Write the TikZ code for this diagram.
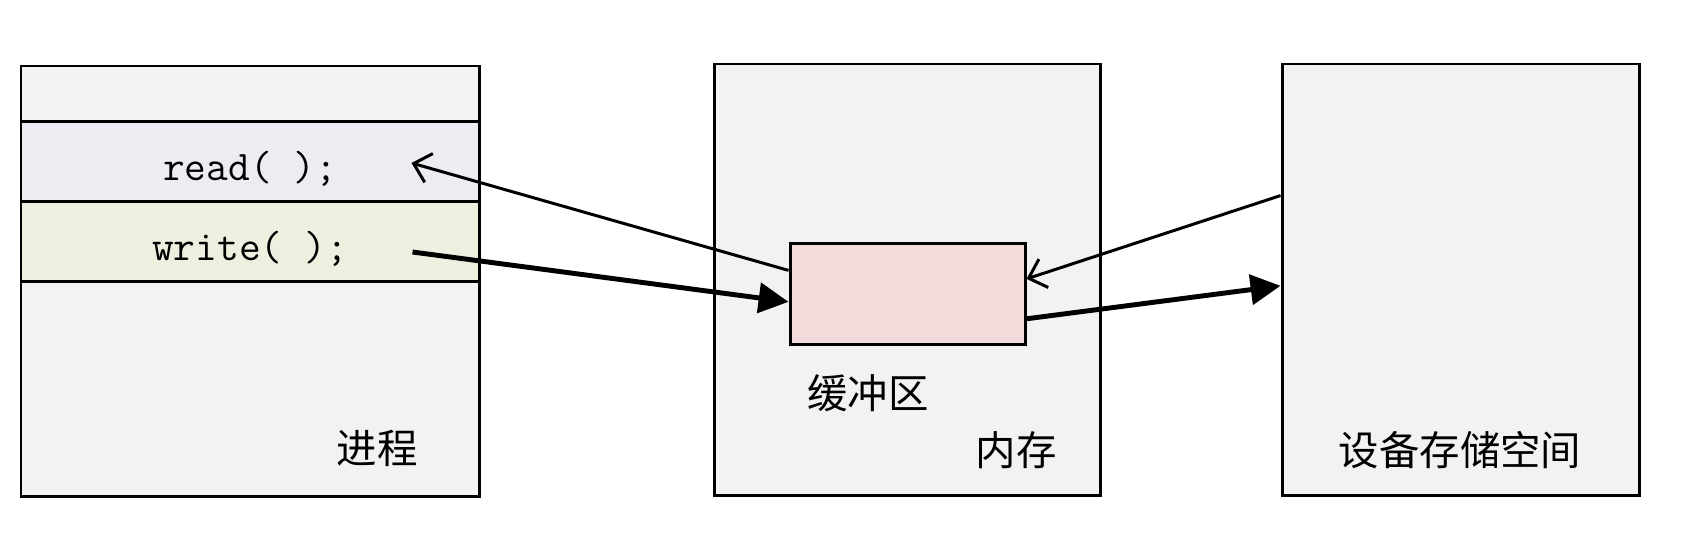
\documentclass[tikz,border=0pt]{standalone}
\usepackage{fontspec}
\newfontfamily\cjk{Noto Sans CJK SC}
\usetikzlibrary{arrows.meta,calc}
\definecolor{boxgray}{HTML}{F2F2F2}
\definecolor{readbg}{HTML}{EEEBF3}
\definecolor{writebg}{HTML}{EBF1DE}
\definecolor{bufbg}{HTML}{F2DCDB}
\tikzset{
  frame/.style={draw, line width=1.7pt, fill=boxgray, inner sep=0pt},
  row/.style={draw, line width=1.7pt, inner sep=0pt, minimum width=9.16cm, minimum height=1.6cm},
  code/.style={font=\fontsize{24}{28}\selectfont\ttfamily, inner sep=0pt},
  lbl/.style={font=\fontsize{23}{28}\selectfont\cjk, inner sep=0pt},
  thinarr/.style={line width=1.7pt, -{Straight Barb[length=9pt,width=17pt,line width=1.7pt]}},
  thickarr/.style={line width=2.8pt, -{Triangle[length=17pt,width=17pt]}}
}
\begin{document}
\begin{tikzpicture}
      \useasboundingbox (0, 0) rectangle (33.78, -10.7);
      \node[frame, minimum width=9.16cm, minimum height=8.6cm] (proc) at (5.0, -5.62) {};
      \node[frame, minimum width=7.72cm, minimum height=8.62cm] (mem) at (18.14, -5.59) {};
      \node[frame, minimum width=7.14cm, minimum height=8.62cm] (dev) at (29.21, -5.59) {};
      \node[row, fill=readbg] (readrow) at (5.0, -3.22) {};
      \node[row, fill=writebg] (writerow) at (5.0, -4.82) {};
      \node[code] (readtxt) at ($(readrow)+(0,-0.15)$) {read( );};
      \node[code] (writetxt) at ($(writerow)+(0,-0.15)$) {write( );};
      \node[frame, fill=bufbg, minimum width=4.7cm, minimum height=2.02cm] (buf) at (18.15, -5.87) {};
      \node[lbl] (proclbl) at (7.54, -8.96) {进程};
      \node[lbl] (buflbl) at (17.36, -7.86) {缓冲区};
      \node[lbl] (memlbl) at (20.32, -9.0) {内存};
      \node[lbl] (devlbl) at (29.2, -9.0) {设备存储空间};
      \coordinate (rdtip) at ($(readrow.east)+(-1.38,-0.04)$);
      \coordinate (wrstart) at ($(writerow.east)+(-1.36,-0.22)$);
      \draw[thinarr] (buf.169.6) -- (rdtip);
      \draw[thickarr] (wrstart) -- (buf.184.6);
      \draw[thinarr] (dev.155.5) -- (buf.7.5);
      \draw[thickarr] (buf.-12.2) -- (dev.182);
\end{tikzpicture}
\end{document}
